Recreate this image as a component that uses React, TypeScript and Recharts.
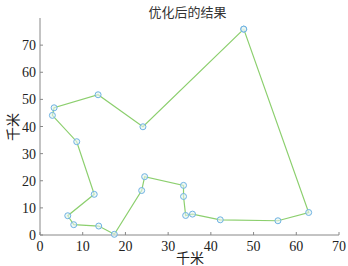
import React from 'react';
import { LineChart, Line, XAxis, YAxis, Label } from 'recharts';

// маршрут по городам (порядок обхода), последняя точка замыкает контур
const routeX = [47.7, 62.9, 55.7, 42.2, 35.7, 34.1, 33.6, 33.6, 24.5, 23.8, 17.4, 13.75, 7.9, 6.5, 12.7, 8.6, 2.9, 3.3, 13.6, 24.1, 47.7];
const routeY = [75.9, 8.3, 5.25, 5.6, 7.7, 7.2, 14.2, 18.3, 21.5, 16.4, 0.25, 3.3, 3.8, 7.1, 15.0, 34.4, 44.1, 46.9, 51.7, 39.9, 75.9];
const xTicks = [0, 10, 20, 30, 40, 50, 60, 70];
const yTicks = [0, 10, 20, 30, 40, 50, 60, 70];

const data = routeX.map((x, i) => ({ x, y: routeY[i] }));

const tickFont = { fontFamily: '"Liberation Serif", serif', fontSize: 14, fill: '#222' };
const cjkFont = '"Noto Sans CJK SC", sans-serif';

const XTick = (props: any) => {
  const { x, y, payload } = props;
  return (
    <g>
      <line x1={x} y1={y} x2={x} y2={y - 3} stroke="#888" />
      <text x={x} y={y} dy={16} textAnchor="middle" {...tickFont}>
        {payload.value}
      </text>
    </g>
  );
};

const YTick = (props: any) => {
  const { x, y, payload } = props;
  return (
    <g>
      <line x1={x} y1={y} x2={x + 3} y2={y} stroke="#888" />
      <text x={x - 4} y={y} dy={5} textAnchor="end" {...tickFont}>
        {payload.value}
      </text>
    </g>
  );
};

export default function App() {
  return (
    <div style={{ position: 'absolute', left: 0, top: 0, width: 348, height: 266, background: '#fff' }}>
      <LineChart width={348} height={266} data={data} margin={{ top: 18, right: 9, left: 0, bottom: 0 }}>
        <XAxis
          dataKey="x"
          type="number"
          domain={[0, 70]}
          ticks={xTicks}
          stroke="#888"
          tickLine={false}
          tickSize={0}
          tickMargin={0}
          height={31}
          tick={<XTick />}
        >
          <Label
            content={() => (
              <text x={190} y={263} textAnchor="middle" fontFamily={cjkFont} fontSize={14} fill="#222">
                千米
              </text>
            )}
          />
        </XAxis>
        <YAxis
          dataKey="y"
          type="number"
          domain={[0, 80]}
          ticks={yTicks}
          stroke="#888"
          tickLine={false}
          tickSize={0}
          tickMargin={0}
          width={40}
          tick={<YTick />}
        >
          <Label
            content={() => (
              <text
                x={12}
                y={127}
                transform="rotate(-90 12 127)"
                textAnchor="middle"
                dominantBaseline="central"
                fontFamily={cjkFont}
                fontSize={14}
                fill="#222"
              >
                千米
              </text>
            )}
          />
        </YAxis>
        <Line
          dataKey="y"
          type="linear"
          stroke="#8ccf6e"
          strokeWidth={1.2}
          dot={{ r: 3, stroke: '#6fb3e3', strokeWidth: 1, fill: '#e6f4ee', fillOpacity: 0.6 }}
          isAnimationActive={false}
        />
      </LineChart>
      <div
        style={{
          position: 'absolute',
          left: 0,
          width: 375,
          top: 3,
          textAlign: 'center',
          fontFamily: cjkFont,
          fontSize: 13,
          lineHeight: '18px',
          color: '#333',
        }}
      >
        优化后的结果
      </div>
    </div>
  );
}
